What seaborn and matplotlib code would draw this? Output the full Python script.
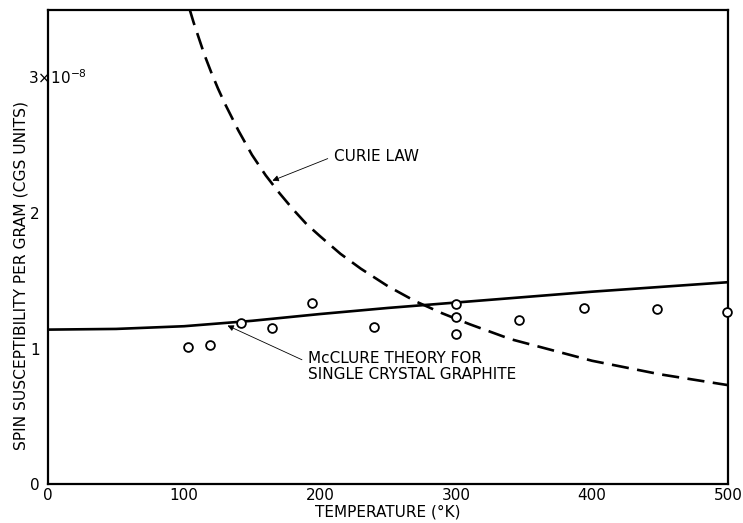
import matplotlib
matplotlib.use("Agg")
import matplotlib.pyplot as plt
import seaborn as sns
import pandas as pd

# Measured points (temperature K, spin susceptibility x1e-8 cgs)
meas_T = [103, 119, 142, 165, 194, 240, 300, 300, 300, 346, 394, 448, 499]
meas_chi = [1.01, 1.03, 1.19, 1.15, 1.34, 1.16, 1.33, 1.23, 1.11, 1.21, 1.30, 1.29, 1.27]

# McClure theory curve (solid)
mcc_T = [0, 50, 100, 150, 200, 250, 300, 350, 400, 450, 500]
mcc_chi = [1.14, 1.145, 1.165, 1.205, 1.255, 1.30, 1.34, 1.38, 1.42, 1.455, 1.49]

# Curie law curve (dashed)
cur_T = [104, 107, 110, 115, 120, 125, 130, 140, 150, 160, 170, 180, 190, 200,
         215, 230, 250, 270, 290, 310, 340, 370, 400, 450, 500]
cur_chi = [3.51, 3.41, 3.32, 3.17, 3.04, 2.92, 2.81, 2.61, 2.43, 2.28, 2.15, 2.03,
           1.92, 1.83, 1.70, 1.59, 1.46, 1.35, 1.26, 1.18, 1.07, 0.99, 0.91, 0.81, 0.73]

xticks = [0, 100, 200, 300, 400, 500]
yticks = [0, 1, 2]

sns.set_style("white")
plt.rcParams["font.family"] = ["DejaVu Sans"]

fig = plt.figure(figsize=(7.43, 5.23), dpi=100)
ax = fig.add_axes([48 / 743, 1 - 484 / 523, 680 / 743, 474 / 523])

df_m = pd.DataFrame({"T": mcc_T, "chi": mcc_chi})
df_c = pd.DataFrame({"T": cur_T, "chi": cur_chi})
df_p = pd.DataFrame({"T": meas_T, "chi": meas_chi})

sns.lineplot(data=df_m, x="T", y="chi", ax=ax, color="black", linewidth=1.9,
             sort=False, estimator=None)
sns.lineplot(data=df_c, x="T", y="chi", ax=ax, color="black", linewidth=1.9,
             sort=False, estimator=None, dashes=False)
ax.lines[-1].set_dashes([6.5, 3.2])
ax.lines[-1].set_dash_capstyle("butt")
sns.scatterplot(data=df_p, x="T", y="chi", ax=ax, marker="o", s=40,
                facecolor="white", edgecolor="black", linewidth=1.3, zorder=5,
                clip_on=False)

ax.set_xlim(0, 500)
ax.set_ylim(0, 3.5)
ax.set_xticks(xticks)
ax.set_xticklabels([str(v) for v in xticks])
ax.set_yticks(yticks)
ax.set_yticklabels([str(v) for v in yticks])
ax.tick_params(axis="both", direction="in", length=9, width=1.3, color="black",
               labelsize=11, labelcolor="black")
ax.tick_params(axis="x", pad=3)
ax.tick_params(axis="y", pad=6)
for sp in ax.spines.values():
    sp.set_visible(True)
    sp.set_color("black")
    sp.set_linewidth(1.6)

ax.text(-0.03, 3.0, "3×10$^{-8}$", transform=ax.get_yaxis_transform(),
        ha="left", va="center", fontsize=11, color="black")

ax.set_xlabel("TEMPERATURE (°K)", fontsize=11, color="black", labelpad=1)
ax.set_ylabel("SPIN SUSCEPTIBILITY PER GRAM (CGS UNITS)", fontsize=11.2, color="black")
ax.yaxis.set_label_coords(-0.028, 0.44)

ax.annotate("CURIE LAW", xy=(165, 2.24), xytext=(210, 2.42), fontsize=11,
            ha="left", va="center", color="black",
            arrowprops=dict(arrowstyle="-|>", lw=0.6, color="black",
                            shrinkA=2, shrinkB=0, mutation_scale=9,
                            relpos=(0, 0.5)))
ax.annotate("McCLURE THEORY FOR\nSINGLE CRYSTAL GRAPHITE", xy=(132, 1.17),
            xytext=(191, 0.87), fontsize=11, ha="left", va="center",
            linespacing=1.1, color="black",
            arrowprops=dict(arrowstyle="-|>", lw=0.6, color="black",
                            shrinkA=2, shrinkB=0, mutation_scale=9,
                            relpos=(0, 0.62)))

fig.savefig("out.png", dpi=100, facecolor="white")
